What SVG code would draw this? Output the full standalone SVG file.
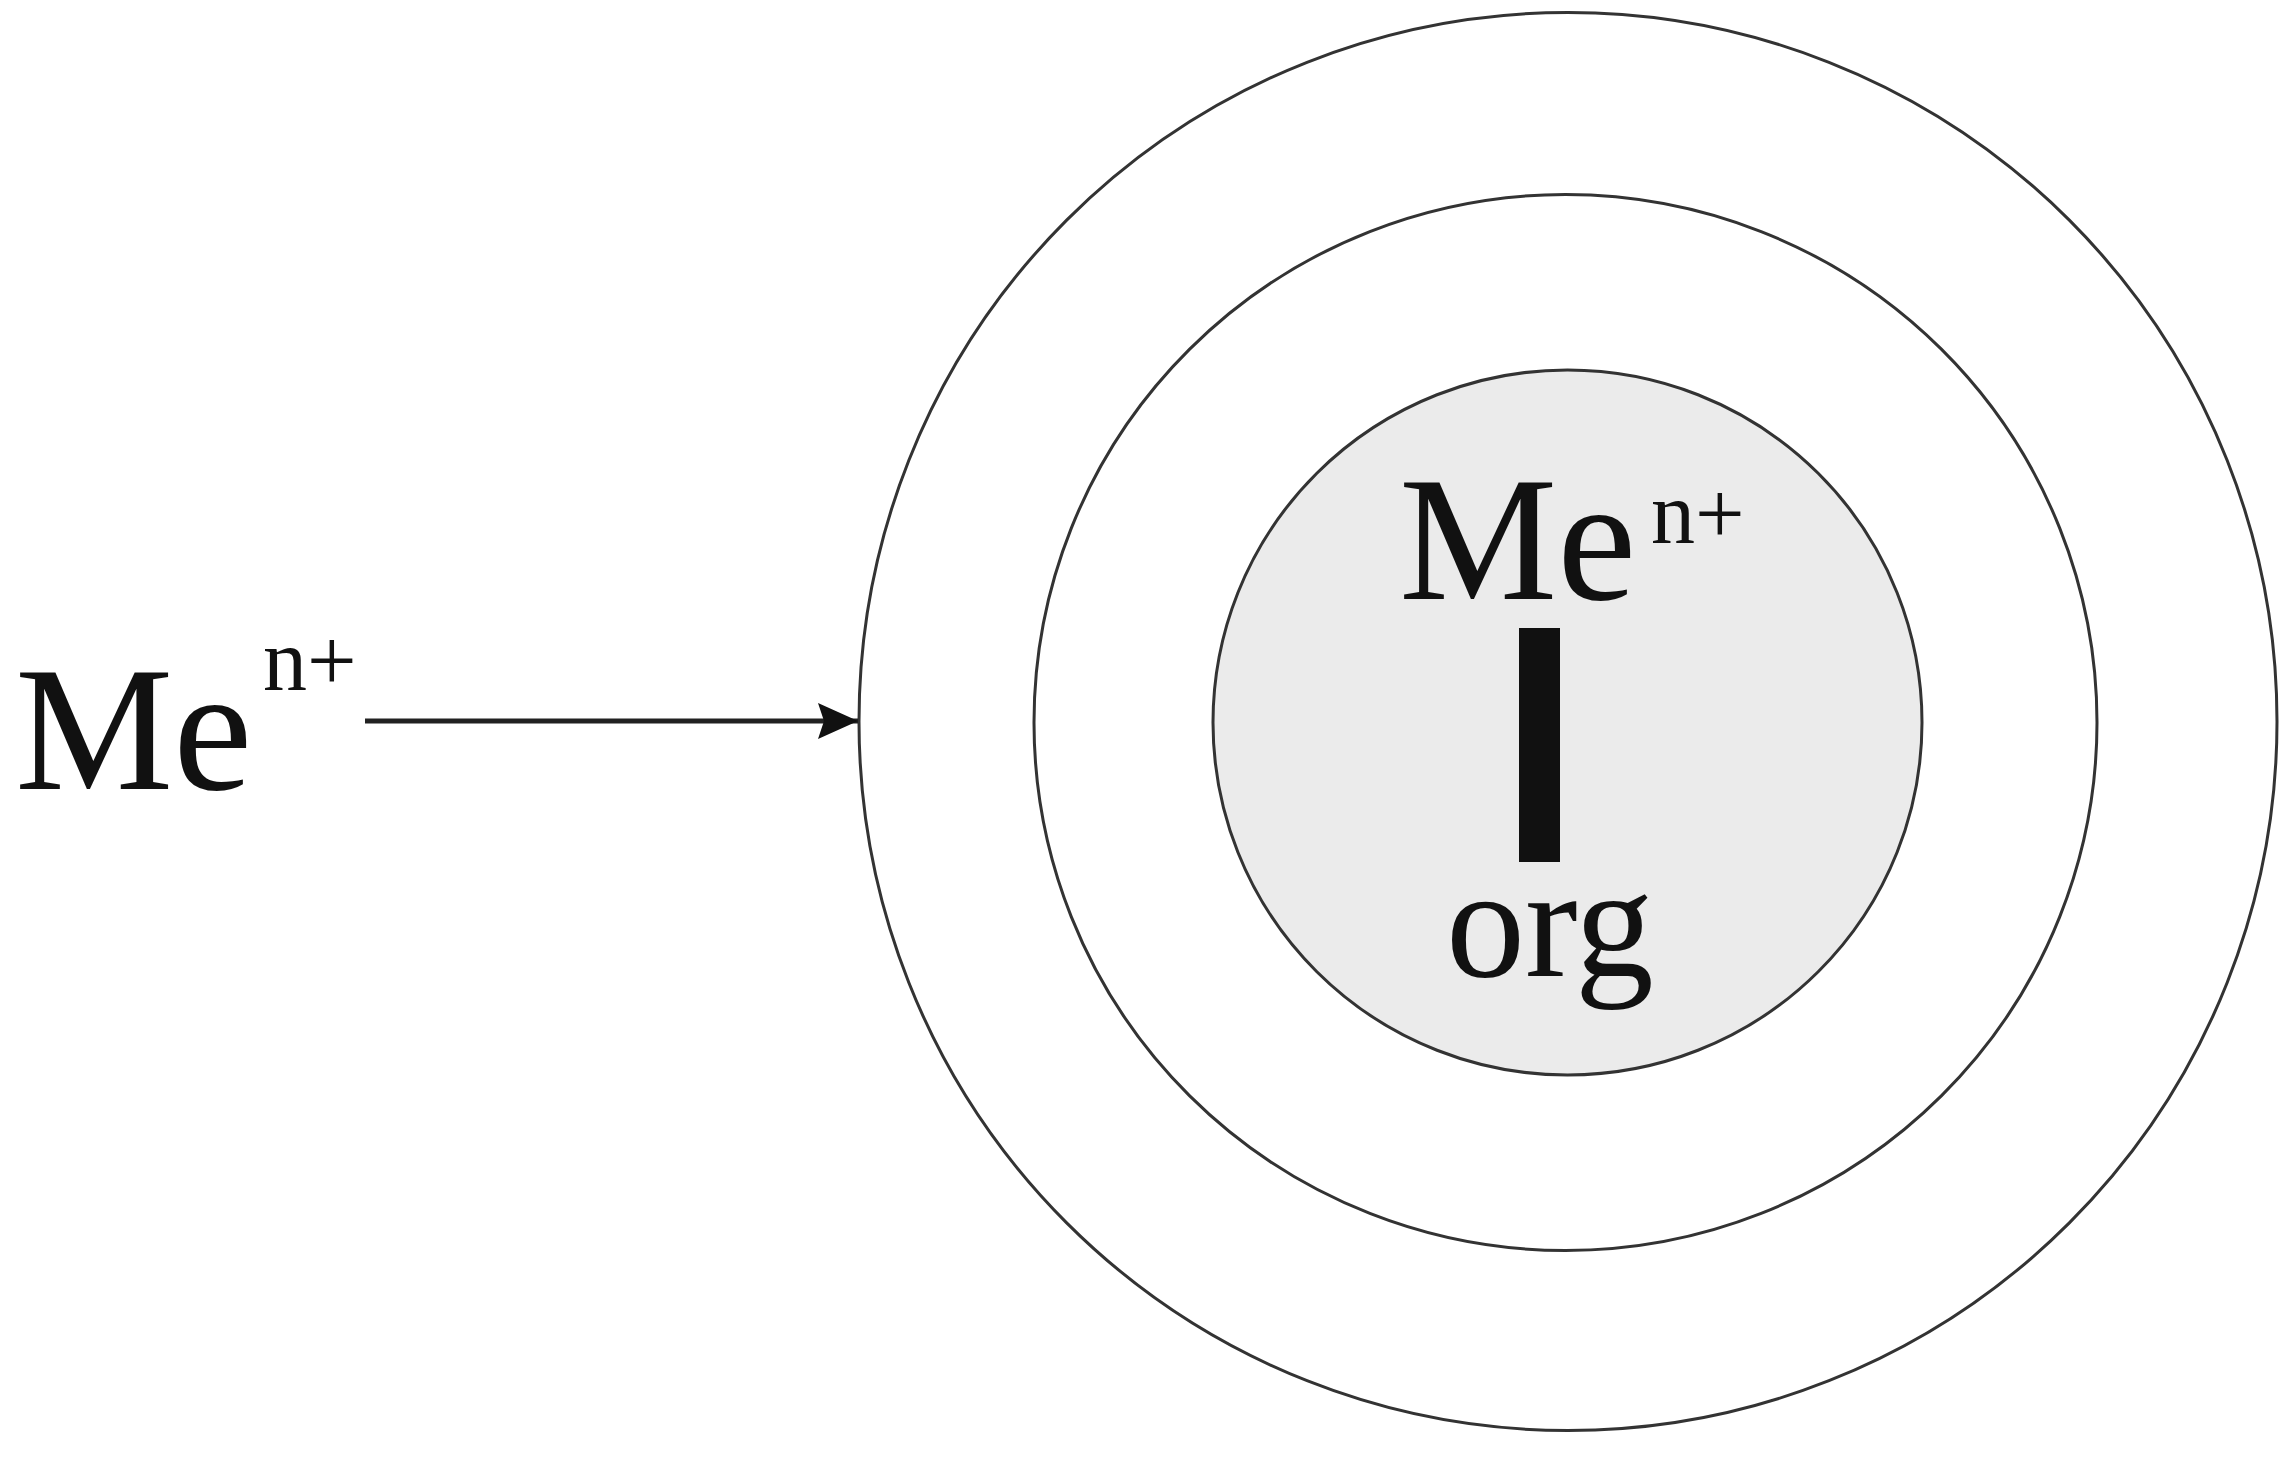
<svg xmlns="http://www.w3.org/2000/svg" width="2291" height="1458" viewBox="0 0 2291 1458">
<style>
.ring{fill:none;stroke:#333;stroke-width:3}
.txt{font-family:"Liberation Serif","Times New Roman",serif;fill:#111}
</style>
<defs>
<marker id="ah" markerUnits="userSpaceOnUse" markerWidth="42" markerHeight="40" refX="40" refY="20" orient="auto">
<path d="M0,2 L40,20 L0,38 L6,20 Z" fill="#111"/>
</marker>
</defs>
<rect width="2291" height="1458" fill="#fff"/>
<g id="outer-ring"><circle class="ring" cx="1568" cy="721.5" r="709"/></g>
<g id="middle-ring"><ellipse class="ring" cx="1565.5" cy="722.5" rx="531.5" ry="528"/></g>
<g id="core">
<ellipse cx="1567.5" cy="722.5" rx="354.5" ry="352.5" fill="#ebebeb" stroke="#333" stroke-width="3"/>
<text class="txt" x="1399" y="599" font-size="178">Me</text>
<text class="txt" x="1651" y="543" font-size="88">n+</text>
<rect x="1519" y="628" width="41" height="234" fill="#111"/>
<text class="txt" x="1446" y="976" font-size="158">org</text>
</g>
<g id="free-ion">
<text class="txt" x="15" y="789" font-size="178">Me</text>
<text class="txt" x="263" y="690" font-size="88">n+</text>
</g>
<g id="connectors">
<line x1="365" y1="721" x2="858" y2="721" stroke="#222" stroke-width="5" marker-end="url(#ah)"/>
</g>
</svg>
